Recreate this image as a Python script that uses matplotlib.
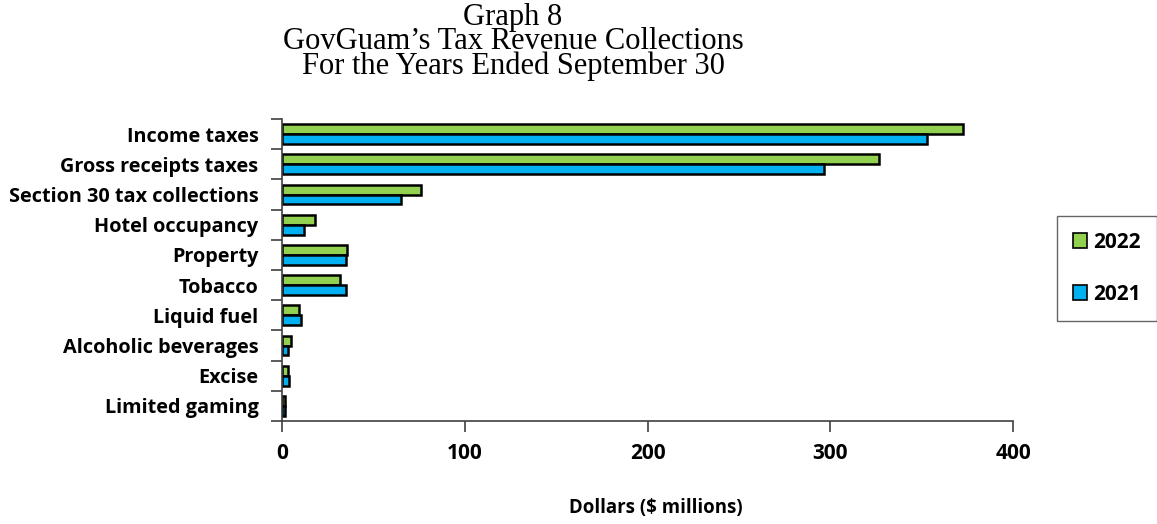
import numpy as np
import matplotlib.pyplot as plt
from matplotlib.ticker import FixedLocator, NullFormatter

categories = ['Income taxes', 'Gross receipts taxes', 'Section 30 tax collections',
              'Hotel occupancy', 'Property', 'Tobacco', 'Liquid fuel',
              'Alcoholic beverages', 'Excise', 'Limited gaming']
values_2022 = [372.6, 326.7, 76.0, 17.9, 35.7, 31.6, 9.3, 4.9, 3.1, 1.5]
values_2021 = [353.0, 296.6, 65.0, 12.2, 35.2, 35.0, 10.2, 3.5, 3.7, 1.5]
xticks = [0, 100, 200, 300, 400]

green = '#92d050'
blue = '#00b0f0'
label_font = 'Open Sans'

fig = plt.figure(figsize=(11.57, 5.24), dpi=100)
ax = fig.add_axes([282/1157, 103/524, 731/1157, 302/524])

y = np.arange(len(categories))
h = 0.33
ax.barh(y - h/2, values_2022, height=h, color=green, edgecolor='black', linewidth=1.8, label='2022')
ax.barh(y + h/2, values_2021, height=h, color=blue, edgecolor='black', linewidth=1.8, label='2021')

ax.set_ylim(len(categories) - 0.5, -0.5)
ax.set_xlim(0, 400)
ax.set_xticks(xticks)
ax.set_xticklabels([str(t) for t in xticks], fontsize=15, fontweight='bold', family=label_font)
ax.set_yticks(y)
ax.set_yticklabels(categories, fontsize=14.3, fontweight='bold', family=label_font)
ax.tick_params(axis='y', which='major', length=0, pad=17)
ax.yaxis.set_minor_locator(FixedLocator(np.arange(len(categories) + 1) - 0.5))
ax.yaxis.set_minor_formatter(NullFormatter())
ax.tick_params(axis='y', which='minor', length=8, width=1.2, color='#404040')
ax.tick_params(axis='x', length=8, width=1.2, color='#404040', pad=8)

for s in ['top', 'right']:
    ax.spines[s].set_visible(False)
for s in ['left', 'bottom']:
    ax.spines[s].set_color('#404040')
    ax.spines[s].set_linewidth(1.2)

fig.text(513/1157, 1 - 3/524, 'Graph 8\nGovGuam\u2019s Tax Revenue Collections\nFor the Years Ended September 30',
         ha='center', va='top', fontsize=22, family='Liberation Serif', linespacing=0.78)
fig.text(656/1157, 1 - 508/524, 'Dollars ($ millions)', ha='center', va='center',
         fontsize=13.4, fontweight='bold', family=label_font)

leg = fig.legend(loc='upper left', bbox_to_anchor=(1057/1157, 1 - 216/524), frameon=True,
                 fancybox=False, edgecolor='#404040', handlelength=0.7, handleheight=0.7,
                 handletextpad=0.3, labelspacing=1.5, borderpad=0.75, borderaxespad=0,
                 prop={'family': label_font, 'weight': 'bold', 'size': 15})
leg.get_frame().set_linewidth(1.0)
for p in leg.get_patches():
    p.set_linewidth(1.2)

fig.savefig('out.png', dpi=100)
